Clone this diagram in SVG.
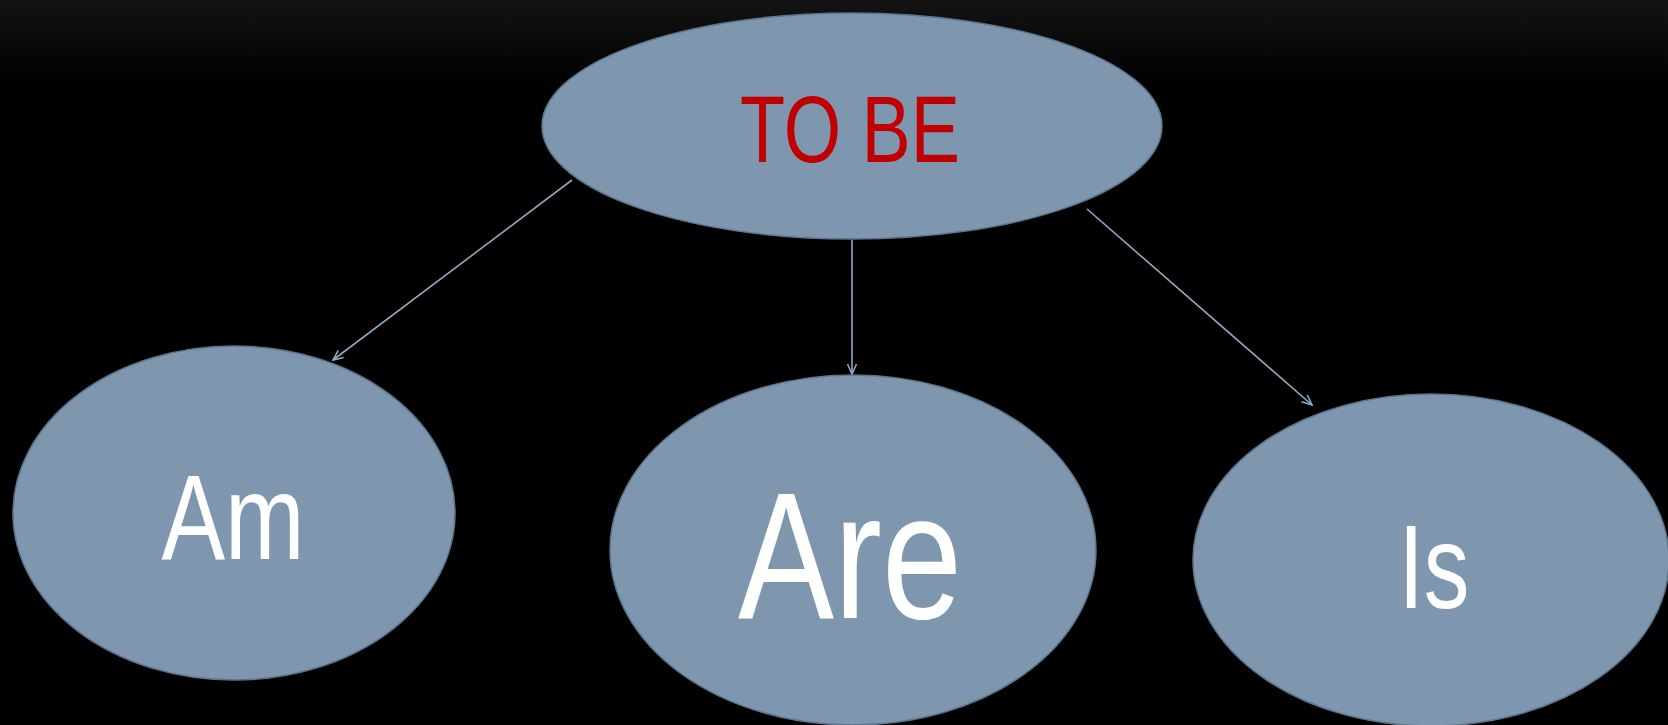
<svg xmlns="http://www.w3.org/2000/svg" width="1668" height="725" viewBox="0 0 1668 725">
  <defs>
    <linearGradient id="bg" x1="0" y1="0" x2="0" y2="1">
      <stop offset="0" stop-color="#131313"/>
      <stop offset="0.12" stop-color="#000000"/>
      <stop offset="1" stop-color="#000000"/>
    </linearGradient>
    <marker id="arrow" viewBox="0 0 12 12" refX="11" refY="6" markerWidth="12" markerHeight="12" markerUnits="userSpaceOnUse" orient="auto">
      <path d="M1,1.5 L11,6 L1,10.5" fill="none" stroke="#8FA9C2" stroke-width="1.6"/>
    </marker>
    <style>
      .node { fill: #7F97AE; stroke: #5C758C; stroke-width: 1.5; }
      .conn { stroke: #8FA9C2; stroke-width: 1.6; fill: none; marker-end: url(#arrow); }
      .lbl { font-family: "Liberation Sans", Arial, sans-serif; text-anchor: middle; }
      .white { fill: #FFFFFF; }
      .red { fill: #C00000; }
    </style>
  </defs>
  <rect x="0" y="0" width="1668" height="725" fill="url(#bg)"/>

  <g id="connectors">
    <line class="conn" x1="572" y1="180" x2="333" y2="360"/>
    <line class="conn" x1="852" y1="240" x2="852" y2="374"/>
    <line class="conn" x1="1087" y1="209" x2="1312" y2="405"/>
  </g>

  <g id="node-tobe">
    <ellipse class="node" cx="852" cy="126" rx="310" ry="113"/>
    <text class="lbl red" x="850" y="162" font-size="95" textLength="220" lengthAdjust="spacingAndGlyphs">TO BE</text>
  </g>

  <g id="node-am">
    <ellipse class="node" cx="234" cy="513" rx="221" ry="167"/>
    <text class="lbl white" x="233" y="559" font-size="120" textLength="143" lengthAdjust="spacingAndGlyphs">Am</text>
  </g>

  <g id="node-are">
    <ellipse class="node" cx="853" cy="550" rx="243" ry="175"/>
    <text class="lbl white" x="850" y="618" font-size="180" textLength="224" lengthAdjust="spacingAndGlyphs">Are</text>
  </g>

  <g id="node-is">
    <ellipse class="node" cx="1431" cy="560" rx="238" ry="166"/>
    <text class="lbl white" x="1434" y="608" font-size="119" textLength="71" lengthAdjust="spacingAndGlyphs">Is</text>
  </g>
</svg>
